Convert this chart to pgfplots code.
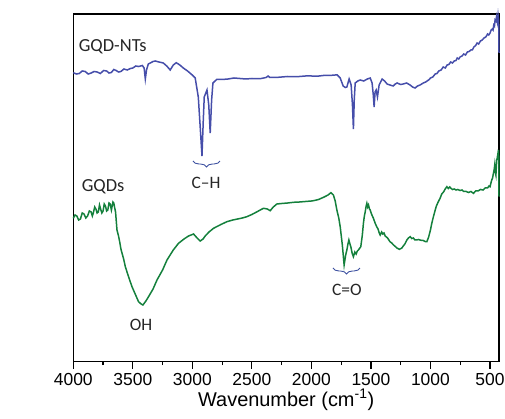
\documentclass[border=0pt]{standalone}
\usepackage{pgfplots}
\pgfplotsset{compat=1.18}
\usepackage{fontspec}
\setmainfont{Liberation Sans}
\newfontfamily\calibri{Carlito}
\usetikzlibrary{decorations.pathreplacing}

\definecolor{ntblue}{RGB}{70,78,170}
\definecolor{qdgreen}{RGB}{20,128,60}
\definecolor{bracecol}{RGB}{60,80,160}

\begin{document}
\begin{tikzpicture}
\useasboundingbox (-73.3bp,-57.5bp) rectangle (431.7bp,361.5bp);
\begin{axis}[
    scale only axis,
    width=425.7bp, height=347.5bp,
    x dir=reverse,
    xmin=424, xmax=4000,
    ymin=-361.5, ymax=-14,
    xtick={500,1000,...,4000},
    minor xtick={750,1250,...,3750},
    ytick=\empty,
    tick align=outside,
    xtick pos=bottom,
    major tick length=7bp,
    minor tick length=3.5bp,
    every tick/.style={black, line width=1.2bp},
    axis line style={line width=1.3bp},
    /pgf/number format/assume math mode=true,
    /pgf/number format/set thousands separator={},
    xticklabel style={font=\fontsize{17.5}{18}\selectfont, yshift=-1bp},
    xlabel={Wavenumber (cm\textsuperscript{-1})},
    xlabel style={font=\fontsize{20}{21}\selectfont, yshift=3bp},
    clip=false,
]
% GQD-NTs
\addplot[ntblue, line width=1.5bp] coordinates {
(4000,-72.7) (3975,-74) (3950,-73.5) (3925,-71) (3900,-71.5) (3875,-74)
(3850,-73) (3825,-71.5) (3800,-72) (3773,-73.5) (3745,-70.5) (3720,-71)
(3700,-73) (3680,-72.5) (3660,-69.5) (3640,-70.5) (3620,-72) (3600,-71.5)
(3575,-69) (3547,-70) (3520,-68.5) (3500,-68) (3475,-66) (3450,-66.5)
(3420,-65.5) (3405,-68) (3395,-79) (3385,-70) (3370,-64) (3353,-63)
(3330,-61.5) (3312,-61) (3280,-62) (3244,-63) (3215,-66) (3186,-70)
(3160,-65) (3135,-62.7) (3105,-65) (3076,-68) (3040,-71) (3001,-75)
(2976,-78) (2950,-97) (2935,-125) (2919,-156) (2908,-120) (2900,-97)
(2877,-90) (2862,-105) (2850,-133) (2838,-100) (2827,-83) (2794,-79.3)
(2750,-79.5) (2700,-79) (2650,-78) (2600,-78.5) (2550,-79) (2500,-78.5)
(2430,-78.7) (2380,-77.5) (2363,-76) (2350,-77.5) (2300,-77.5) (2250,-77)
(2200,-76.5) (2153,-76.7) (2100,-76.5) (2050,-76) (2000,-76) (1950,-76.2)
(1900,-75.5) (1850,-75.5) (1800,-75) (1783,-75) (1758,-78) (1733,-86)
(1715,-87.5) (1702,-87) (1683,-79) (1666,-85) (1655,-105) (1647,-129)
(1640,-100) (1632,-83) (1610,-81) (1590,-80) (1560,-81) (1530,-79)
(1506,-78) (1490,-83) (1480,-95) (1473,-107) (1465,-92) (1456,-90)
(1445,-97) (1431,-85) (1406,-79) (1385,-81) (1364,-84) (1340,-85)
(1313,-86) (1295,-84) (1280,-83) (1250,-84.5) (1229,-84) (1200,-83)
(1171,-85) (1150,-87) (1129,-88) (1108,-86) (1087,-85) (1060,-83)
(1040,-82) (1028,-81) (1010,-79.5) (1000,-78) (980,-77) (960,-74)
(945,-73.5) (930,-71) (910,-70) (893,-67) (875,-68) (860,-65)
(845,-64.5) (830,-62) (815,-63) (800,-61) (785,-60.5) (775,-58)
(762,-59) (751,-57) (735,-56) (720,-54) (705,-55) (690,-52)
(675,-51.5) (660,-50) (648,-50) (635,-47) (620,-45.5) (608,-43)
(595,-44) (580,-41) (565,-40) (550,-38) (535,-37) (520,-34)
(510,-35) (499,-33) (490,-30) (480,-29) (474,-30) (468,-25)
(462,-26) (457,-20) (450,-21) (445,-17) (438,-22) (432,-15)
(427,-20) (425,-30) (424,-53)
};
% GQDs
\addplot[qdgreen, line width=1.5bp] coordinates {
(4000,-218.3) (3985,-215) (3970,-216) (3955,-220) (3940,-219) (3925,-213)
(3910,-214) (3895,-218) (3880,-216) (3865,-211) (3850,-212) (3840,-216)
(3832,-213) (3820,-207) (3810,-209) (3800,-213) (3790,-212) (3780,-205)
(3773,-208) (3760,-213) (3750,-211) (3740,-204) (3730,-206) (3720,-211)
(3710,-210) (3700,-203) (3690,-204) (3680,-210) (3675,-207) (3667,-202)
(3660,-203) (3652,-208) (3645,-212) (3633,-230) (3620,-236) (3610,-242)
(3600,-249) (3591,-253) (3577,-259) (3563,-266.7) (3535,-277) (3507,-286.7)
(3480,-294) (3452,-301.7) (3430,-304) (3415,-305) (3390,-301) (3368,-296.7)
(3330,-289) (3297,-280) (3250,-270) (3213,-260) (3160,-250) (3116,-243.3)
(3070,-239) (3032,-236) (2990,-234) (2960,-238) (2934,-241) (2910,-239)
(2892,-236) (2860,-232) (2822,-228.3) (2760,-224.5) (2710,-221.7) (2660,-220)
(2620,-219) (2580,-218) (2542,-216.7) (2500,-214.5) (2460,-212) (2430,-210)
(2402,-208.3) (2370,-209) (2346,-210.7) (2320,-207) (2290,-204) (2250,-203.5)
(2200,-203) (2150,-202.3) (2100,-202) (2050,-201.5) (2000,-201) (1982,-200.7)
(1940,-199.5) (1898,-197.3) (1860,-195) (1836,-192.7) (1815,-195) (1800,-201)
(1786,-210) (1770,-218) (1758,-226.7) (1740,-245) (1725,-265) (1712,-255)
(1702,-250) (1693,-244) (1685,-240) (1676,-244) (1668,-247) (1658,-253)
(1647,-256.7) (1635,-252) (1624,-254) (1614,-251) (1605,-250) (1585,-246.7)
(1572,-235) (1563,-223.3) (1555,-216) (1548,-212) (1540,-206) (1534,-203.3)
(1527,-207) (1520,-205) (1512,-209) (1506,-210) (1495,-214) (1480,-218)
(1464,-223.3) (1450,-227) (1440,-229) (1430,-233) (1422,-235) (1410,-232)
(1400,-234) (1390,-233) (1380,-236) (1360,-238) (1340,-241.7) (1325,-243)
(1310,-245) (1295,-246.5) (1282,-248) (1260,-249.3) (1240,-248) (1228,-246)
(1215,-244) (1198,-240) (1185,-238) (1170,-236.7) (1157,-238.5) (1143,-238)
(1130,-240) (1115,-240) (1100,-239.5) (1087,-240) (1072,-240.5) (1060,-240.5)
(1045,-241.5) (1030,-241.7) (1015,-237) (1000,-230) (988,-223) (975,-216.7)
(962,-211) (950,-206) (935,-202) (919,-198.3) (905,-194) (890,-192)
(876,-189) (862,-186.7) (850,-188.5) (838,-187) (830,-188) (815,-189.5)
(800,-189) (785,-190) (770,-189.5) (751,-190.5) (735,-190) (720,-191.5)
(700,-191.5) (680,-192.5) (660,-191.5) (639,-193.3) (620,-191) (600,-191)
(580,-189.5) (558,-190) (540,-188) (520,-188) (508,-186) (499,-186.7)
(492,-183) (485,-180) (478,-178) (471,-173.3) (465,-170) (460,-165)
(455,-172) (450,-175) (446,-166) (443,-160) (439,-158) (435,-155)
(431,-160) (428,-150) (426,-156) (424,-196.7)
};
% labels
\node[anchor=west, font=\calibri\fontsize{18.5}{19}\selectfont, text=black!85, inner sep=0pt]
  at (axis cs:3955,-47) {GQD-NTs};
\node[anchor=west, font=\calibri\fontsize{18.5}{19}\selectfont, text=black!85, inner sep=0pt]
  at (axis cs:3930,-187) {GQDs};
\draw[bracecol, line width=0.9bp, decorate, decoration={brace, mirror, amplitude=6bp}]
  (axis cs:2995,-161) -- (axis cs:2768,-161);
\node[font=\calibri\fontsize{17.5}{18}\selectfont, text=black!85, inner sep=0pt]
  at (axis cs:2885,-183) {C–H};
\draw[bracecol, line width=0.9bp, decorate, decoration={brace, mirror, amplitude=6bp}]
  (axis cs:1819,-268) -- (axis cs:1592,-268);
\node[font=\calibri\fontsize{17.5}{18}\selectfont, text=black!85, inner sep=0pt]
  at (axis cs:1702,-290) {C=O};
\node[font=\calibri\fontsize{17.5}{18}\selectfont, text=black!85, inner sep=0pt]
  at (axis cs:3431,-325) {OH};
\end{axis}
\end{tikzpicture}
\end{document}
